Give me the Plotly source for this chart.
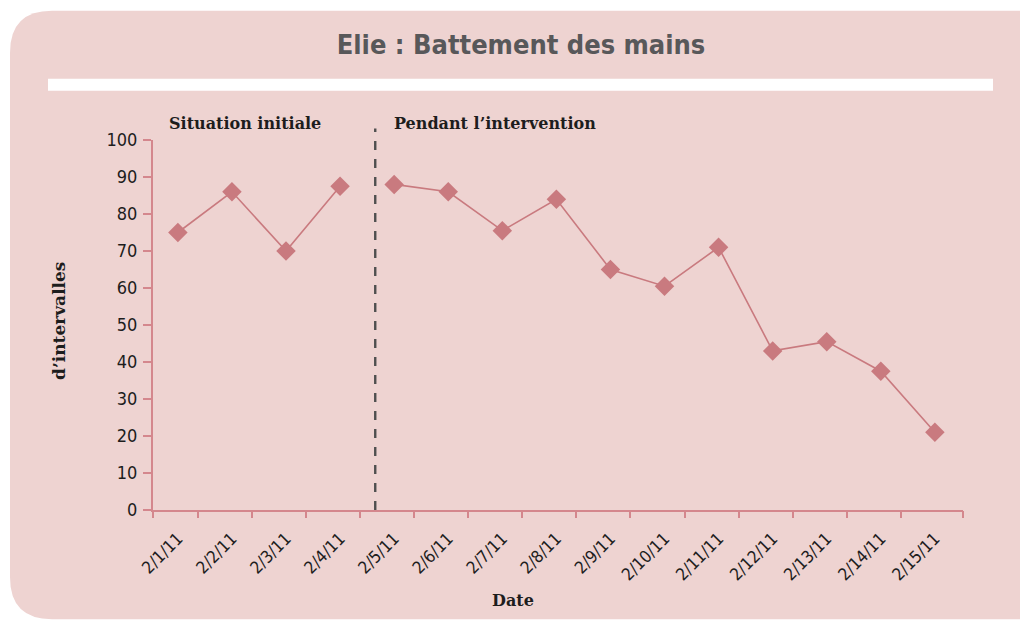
import plotly.graph_objects as go

# ---- data ----
dates = ["2/1/11", "2/2/11", "2/3/11", "2/4/11", "2/5/11", "2/6/11", "2/7/11", "2/8/11",
         "2/9/11", "2/10/11", "2/11/11", "2/12/11", "2/13/11", "2/14/11", "2/15/11"]
baseline_values = [75, 86, 70, 87.5]
intervention_values = [88, 86, 75.5, 84, 65, 60.5, 71, 43, 45.5, 37.5, 21]
y_ticks = [0, 10, 20, 30, 40, 50, 60, 70, 80, 90, 100]
phase_labels = ["Situation initiale", "Pendant l\u2019intervention"]
title_text = "Elie : Battement des mains"
y_title = "d\u2019intervalles"
x_title = "Date"

n_base = len(baseline_values)
x_base = list(range(n_base))
x_int = list(range(n_base, n_base + len(intervention_values)))
x_all = list(range(len(dates)))

# ---- layout geometry (pixels) ----
W, H = 1020, 621
L, R, T, B = 153, 57, 139.5, 110.5
PW, PH = W - L - R, H - T - B

def px(x):
    return (x - L) / PW

def py(y):
    return (H - B - y) / PH

PINK_BG = "#EED3D1"
MARK = "#C97A7F"
AXIS = "#D4878D"
TXT = "#1d1d1d"
NARROW = "Liberation Sans Narrow, Arial Narrow, DejaVu Sans Condensed, sans-serif"
SERIF = "DejaVu Serif, serif"

fig = go.Figure()
for xs, ys in ((x_base, baseline_values), (x_int, intervention_values)):
    fig.add_trace(go.Scatter(
        x=xs, y=ys, mode="lines+markers",
        line=dict(color=MARK, width=1.6),
        marker=dict(symbol="diamond", size=15, color=MARK),
        showlegend=False, hoverinfo="x+y", cliponaxis=False,
    ))

tick_marks = [-0.46] + [i + 0.37 for i in range(len(dates) - 1)] + [14.52]

# rounded pink card
x0, y0, rad = 10, 10, 42
x1, y1 = W + 40, H - 1
path = (f"M {px(x0)},{py(y0 + rad)} Q {px(x0)},{py(y0)} {px(x0 + rad)},{py(y0)} "
        f"L {px(x1)},{py(y0)} L {px(x1)},{py(y1)} L {px(x0 + rad)},{py(y1)} "
        f"Q {px(x0)},{py(y1)} {px(x0)},{py(y1 - rad)} Z")
shapes = [
    dict(type="path", path=path, xref="paper", yref="paper", fillcolor=PINK_BG,
         line=dict(width=0), layer="below"),
    dict(type="rect", xref="paper", yref="paper", x0=px(48), x1=px(993), y0=py(78), y1=py(90),
         fillcolor="white", line=dict(width=0), layer="below"),
    dict(type="line", xref="x", yref="paper", x0=3.65, x1=3.65, y0=0, y1=py(128),
         line=dict(color="#4f4f4f", width=2.4, dash="dash")),
]

annotations = [
    dict(text=f"<b>{phase_labels[0]}</b>", xref="paper", yref="paper", x=px(245), y=py(123),
         showarrow=False, font=dict(family=SERIF, size=16, color=TXT), xanchor="center", yanchor="middle"),
    dict(text=f"<b>{phase_labels[1]}</b>", xref="paper", yref="paper", x=px(495), y=py(123),
         showarrow=False, font=dict(family=SERIF, size=16, color=TXT), xanchor="center", yanchor="middle"),
    dict(text=f"<b>{y_title}</b>", xref="paper", yref="paper", x=px(59), y=py(321), textangle=-90,
         showarrow=False, font=dict(family=SERIF, size=17, color=TXT), xanchor="center", yanchor="middle"),
    dict(text=f"<b>{x_title}</b>", xref="paper", yref="paper", x=px(513), y=py(601),
         showarrow=False, font=dict(family=SERIF, size=16, color=TXT), xanchor="center", yanchor="middle"),
]

fig.update_layout(
    width=W, height=H,
    margin=dict(l=L, r=R, t=T, b=B),
    paper_bgcolor="white", plot_bgcolor="rgba(0,0,0,0)",
    title=dict(text=f"<b>{title_text}</b>", x=521 / W, xref="container", xanchor="center",
               y=1 - 45 / H, yref="container", yanchor="middle",
               font=dict(family=NARROW, size=27, color="#58585A")),
    shapes=shapes, annotations=annotations,
    xaxis=dict(range=[-0.46, 14.52], tickmode="array", tickvals=x_all, ticktext=dates,
               tickangle=-45, ticks="", showgrid=False, zeroline=False,
               showline=True, linecolor=AXIS, linewidth=2,
               tickfont=dict(family=NARROW, size=17, color=TXT), ticklabelstandoff=10),
    xaxis2=dict(range=[-0.46, 14.52], overlaying="x", side="bottom", anchor="y",
                tickmode="array", tickvals=tick_marks, ticktext=[""] * len(tick_marks),
                ticks="outside", ticklen=7, tickwidth=2, tickcolor=AXIS,
                showgrid=False, zeroline=False, showline=False),
    yaxis=dict(range=[0, 100], tickmode="array", tickvals=y_ticks,
               ticks="outside", ticklen=8, tickwidth=1.5, tickcolor=AXIS,
               showgrid=False, zeroline=False, showline=True, linecolor=AXIS, linewidth=2,
               tickfont=dict(family=NARROW, size=18, color=TXT), ticklabelstandoff=2),
)
fig.add_trace(go.Scatter(x=[tick_marks[0]], y=[None], xaxis="x2", showlegend=False, hoverinfo="skip"))

fig.write_html("out.html", config={"displayModeBar": False},
               post_script="document.body.style.margin='0';")
